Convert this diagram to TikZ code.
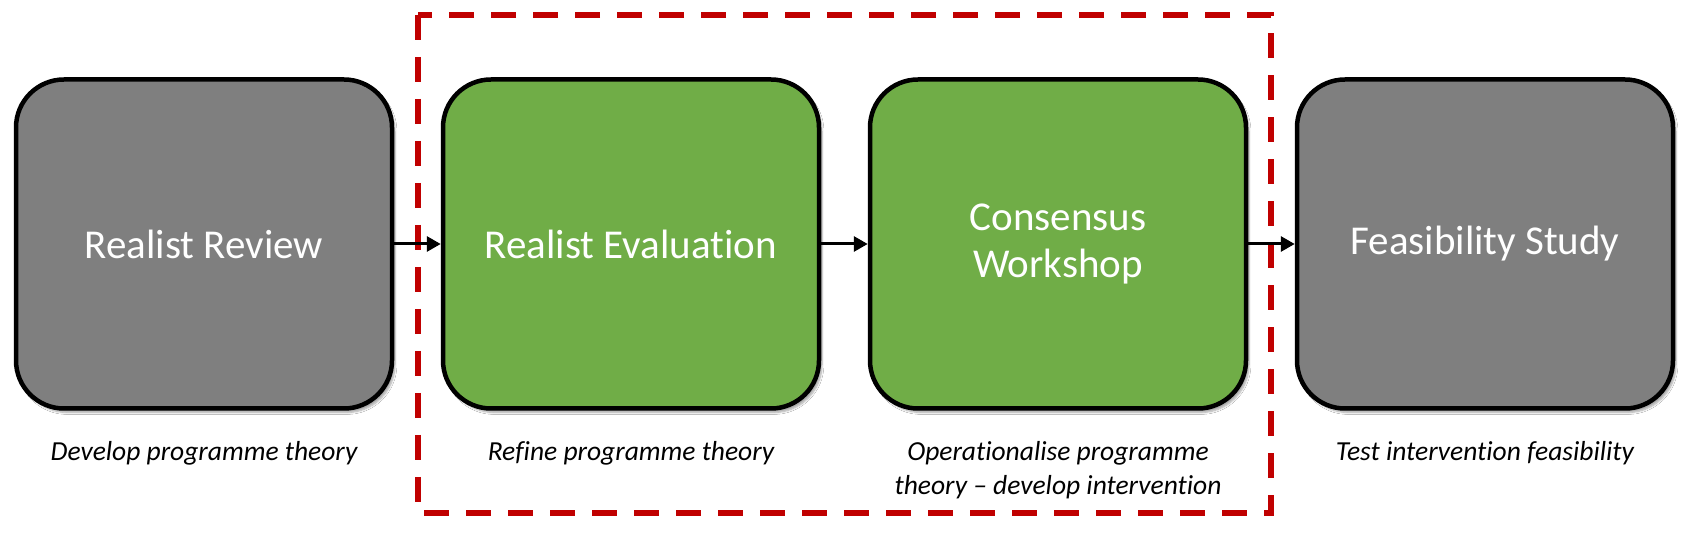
\documentclass[tikz,border=0pt]{standalone}
\usepackage{fontspec}
\setmainfont{Carlito}[Ligatures=NoCommon]
\usetikzlibrary{arrows.meta,shadows.blur}
\definecolor{boxgray}{HTML}{7F7F7F}
\definecolor{boxgreen}{HTML}{70AD47}
\definecolor{dashred}{HTML}{C00000}
\tikzset{
  stagebox/.style={draw=black, line width=4.5pt, rounded corners=48pt,
    minimum width=376pt, minimum height=329pt, text=white, align=center,
    font=\fontsize{41}{47}\selectfont,
    blur shadow={shadow xshift=3pt, shadow yshift=-4pt, shadow blur steps=6, shadow opacity=35}},
  graybox/.style={stagebox, fill=boxgray},
  greenbox/.style={stagebox, fill=boxgreen},
  caption/.style={align=center, font=\fontsize{27.5}{34}\selectfont\itshape, text=black},
  flow/.style={line width=3pt, -{Triangle[length=14pt,width=15pt]}},
  focus/.style={draw=dashred, line width=6pt, dash pattern=on 25pt off 17pt}
}
\begin{document}
\begin{tikzpicture}[x=1pt,y=-1pt]
\useasboundingbox (0,0) rectangle (1701,534);
\fill[white] (0,0) rectangle (1701,534);
\draw[focus] (418,15) rectangle (1271,513);
\node[graybox]  (rr) at (204,244)  {Realist Review};
\node[greenbox] (re) at (631,244)  {Realist Evaluation};
\node[greenbox] (cw) at (1058,244) {Consensus\\Workshop};
\node[graybox]  (fs) at (1485,244) {Feasibility Study};
\draw[flow] (rr.east) -- (re.west);
\draw[flow] (re.east) -- (cw.west);
\draw[flow] (cw.east) -- (fs.west);
\node[caption] (c1) at (204,453)  {Develop programme theory};
\node[caption] (c2) at (631,453)  {Refine programme theory};
\node[caption] (c3) at (1058,470) {Operationalise programme\\theory -- develop intervention};
\node[caption] (c4) at (1485,453) {Test intervention feasibility};
\end{tikzpicture}
\end{document}
